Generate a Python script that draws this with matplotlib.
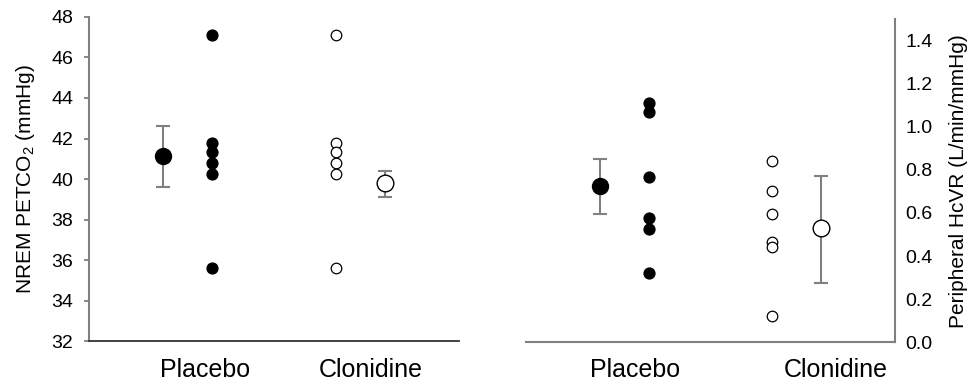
import matplotlib
matplotlib.use("Agg")
import matplotlib.pyplot as plt

plt.rcParams['font.family'] = ['Liberation Sans', 'DejaVu Sans']
plt.rcParams['mathtext.fontset'] = 'custom'
plt.rcParams['mathtext.rm'] = 'Liberation Sans'
plt.rcParams['mathtext.it'] = 'Liberation Sans'

# ---- data ----
groups = ["Placebo", "Clonidine"]

petco2_placebo = [47.1, 41.76, 41.33, 40.8, 40.23, 35.59]
petco2_clonidine = [47.1, 41.76, 41.33, 40.8, 40.23, 35.59]
petco2_mean = [41.12, 39.8]
petco2_err_up = [1.48, 0.61]
petco2_err_dn = [1.53, 0.67]

hcvr_placebo = [1.112, 1.067, 0.767, 0.575, 0.524, 0.323]
hcvr_clonidine = [0.841, 0.701, 0.594, 0.464, 0.444, 0.124]
hcvr_mean = [0.727, 0.529]
hcvr_err_up = [0.124, 0.244]
hcvr_err_dn = [0.130, 0.252]

# x layout (positions in axis units, 0..10)
x_mean = [2.0, 8.0]
x_ind = [3.33, 6.67]
label_pos_left = [3.13, 7.62]
label_pos_right = [2.95, 8.39]

GRAY = '#808080'

fig = plt.figure(figsize=(9.74, 3.88), dpi=100)
axL = fig.add_axes([0.0914, 0.1211, 0.3799, 0.8351])
axR = fig.add_axes([0.5397, 0.1178, 0.3792, 0.8332])


def draw(ax, ind_p, ind_c, means, eup, edn):
    ax.errorbar(x_mean, means, yerr=[edn, eup], fmt='none', ecolor=GRAY,
                elinewidth=1.5, capsize=5, capthick=1.5, zorder=1)
    ax.plot([x_mean[0]], [means[0]], 'o', ms=11.5, mfc='black', mec='black', zorder=3)
    ax.plot([x_mean[1]], [means[1]], 'o', ms=12, mfc='white', mec='black', mew=1.0, zorder=3)
    ax.plot([x_ind[0]] * len(ind_p), ind_p, 'o', ms=7.8, mfc='black', mec='black', zorder=3)
    ax.plot([x_ind[1]] * len(ind_c), ind_c, 'o', ms=7.6, mfc='white', mec='black', mew=0.9, zorder=3)
    ax.set_xlim(0, 10)
    ax.set_xticks([])


draw(axL, petco2_placebo, petco2_clonidine, petco2_mean, petco2_err_up, petco2_err_dn)
axL.set_ylim(32, 48)
axL.set_yticks(range(32, 49, 2))
axL.spines['top'].set_visible(False)
axL.spines['right'].set_visible(False)
axL.spines['left'].set_color(GRAY)
axL.spines['left'].set_linewidth(1.5)
axL.spines['bottom'].set_color('#333333')
axL.spines['bottom'].set_linewidth(1.3)
axL.tick_params(axis='y', length=3.5, width=1.3, color=GRAY, labelsize=14, pad=8)
axL.set_ylabel('NREM PETCO$_2$ (mmHg)', fontsize=15, labelpad=10)
for p, g in zip(label_pos_left, groups):
    axL.text(p, -0.052, g, transform=axL.get_xaxis_transform(), ha='center', va='top', fontsize=18)

draw(axR, hcvr_placebo, hcvr_clonidine, hcvr_mean, hcvr_err_up, hcvr_err_dn)
axR.set_ylim(0, 1.5)
axR.set_yticks([0.0, 0.2, 0.4, 0.6, 0.8, 1.0, 1.2, 1.4])
axR.set_yticklabels(['0.0', '0.2', '0.4', '0.6', '0.8', '1.0', '1.2', '1.4'])
axR.spines['top'].set_visible(False)
axR.spines['left'].set_visible(False)
axR.spines['right'].set_color(GRAY)
axR.spines['right'].set_linewidth(1.5)
axR.spines['bottom'].set_color(GRAY)
axR.spines['bottom'].set_linewidth(1.5)
axR.yaxis.tick_right()
axR.yaxis.set_label_position('right')
axR.tick_params(axis='y', length=0, labelsize=14, pad=7.5)
axR.set_ylabel('Peripheral HcVR (L/min/mmHg)', fontsize=15, rotation=90, labelpad=11.5)
for p, g in zip(label_pos_right, groups):
    axR.text(p, -0.05, g, transform=axR.get_xaxis_transform(), ha='center', va='top', fontsize=18)

fig.savefig('out.png', dpi=100)
